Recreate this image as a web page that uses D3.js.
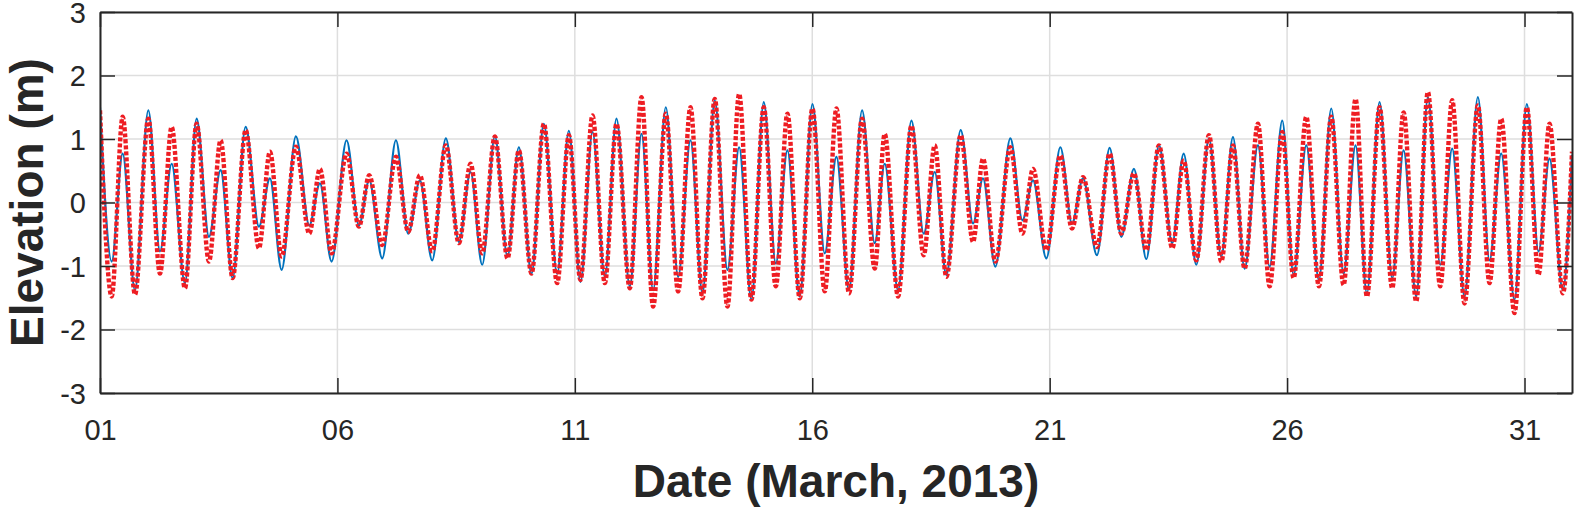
<!DOCTYPE html>
<html>
<head>
<meta charset="utf-8">
<script src="https://cdn.jsdelivr.net/npm/d3@7"></script>
<style>
  html, body { margin: 0; padding: 0; background: #fff; }
  svg { display: block; }
  text { font-family: "Liberation Sans", Arial, Helvetica, sans-serif; }
</style>
</head>
<body>
<svg id="chart" width="1576" height="512"></svg>
<script>
// Times of successive high/low waters (day of March 2013, fractional)
const times = [
  1.000, 1.246, 1.477, 1.737, 2.018, 2.263, 2.509, 2.789, 3.035, 3.295, 3.540, 3.793, 4.067, 4.347, 4.579, 4.825,
  5.126, 5.407, 5.632, 5.877, 6.193, 6.453, 6.670, 6.944, 7.232, 7.491, 7.737, 7.996, 8.284, 8.558, 8.804,
  9.049, 9.316, 9.582, 9.821, 10.088, 10.347, 10.628, 10.874, 11.119, 11.372, 11.632, 11.877, 12.158, 12.404, 12.649, 12.916,
  13.176, 13.435, 13.688, 13.947, 14.214, 14.460, 14.719, 14.979, 15.232, 15.477, 15.737, 16.004, 16.263, 16.509, 16.775,
  17.049, 17.316, 17.526, 17.807, 18.088, 18.347, 18.579, 18.825, 19.126, 19.386, 19.596, 19.856, 20.172, 20.425, 20.649, 20.930,
  21.225, 21.470, 21.702, 21.996, 22.263, 22.509, 22.775, 23.035, 23.302, 23.582, 23.821, 24.088, 24.354, 24.614, 24.860,
  25.105, 25.386, 25.632, 25.898, 26.137, 26.404, 26.670, 26.930, 27.189, 27.442, 27.681, 27.947, 28.214, 28.453, 28.719,
  28.965, 29.225, 29.477, 29.737, 30.018, 30.263, 30.509, 30.789, 31.049, 31.295, 31.526, 31.807, 32.000
];
// Observed elevation (m), blue solid
const observed = [
  1.50, -0.93, 0.77, -1.38, 1.45, -0.77, 0.61, -1.27, 1.32, -0.54, 0.51, -1.19, 1.19, -0.38, 0.38, -1.06,
  1.04, -0.36, 0.30, -0.93, 0.98, -0.36, 0.35, -0.88, 0.98, -0.49, 0.35, -0.91, 1.01, -0.62, 0.48,
  -0.98, 1.04, -0.85, 0.87, -1.12, 1.24, -1.12, 1.13, -1.25, 1.11, -1.17, 1.32, -1.32, 1.08, -1.38, 1.50,
  -1.17, 0.98, -1.43, 1.61, -1.06, 0.87, -1.53, 1.58, -0.96, 0.82, -1.48, 1.55, -0.80, 0.72, -1.38,
  1.45, -0.64, 0.61, -1.38, 1.29, -0.49, 0.48, -1.14, 1.14, -0.33, 0.38, -1.01, 1.01, -0.28, 0.35, -0.88,
  0.87, -0.33, 0.38, -0.83, 0.86, -0.54, 0.53, -0.89, 0.90, -0.64, 0.77, -0.98, 1.01, -0.85, 1.03,
  -1.04, 0.90, -1.01, 1.29, -1.14, 0.90, -1.22, 1.48, -1.12, 0.90, -1.43, 1.58, -1.19, 0.82, -1.48,
  1.66, -0.98, 0.85, -1.48, 1.66, -0.91, 0.77, -1.53, 1.55, -0.77, 0.69, -1.38, 0.75
];
// Modelled elevation (m), red dotted
const modeled = [
  1.45, -1.48, 1.35, -1.45, 1.32, -1.12, 1.19, -1.35, 1.24, -0.93, 0.98, -1.19, 1.14, -0.72, 0.80, -0.85,
  0.88, -0.49, 0.53, -0.80, 0.77, -0.38, 0.43, -0.67, 0.72, -0.46, 0.43, -0.77, 0.90, -0.64, 0.61,
  -0.80, 1.04, -0.88, 0.82, -1.12, 1.24, -1.27, 1.06, -1.22, 1.37, -1.27, 1.24, -1.35, 1.66, -1.64, 1.40,
  -1.40, 1.50, -1.51, 1.63, -1.64, 1.71, -1.53, 1.50, -1.32, 1.40, -1.51, 1.48, -1.40, 1.48, -1.43,
  1.32, -1.04, 1.08, -1.48, 1.21, -0.83, 0.90, -1.17, 1.06, -0.62, 0.69, -0.93, 0.87, -0.49, 0.53, -0.75,
  0.74, -0.41, 0.40, -0.70, 0.77, -0.49, 0.46, -0.75, 0.90, -0.72, 0.66, -0.91, 1.06, -0.93, 0.90,
  -1.04, 1.24, -1.32, 1.11, -1.19, 1.35, -1.32, 1.35, -1.30, 1.63, -1.48, 1.50, -1.35, 1.42, -1.56,
  1.74, -1.32, 1.61, -1.59, 1.53, -1.27, 1.32, -1.74, 1.50, -1.14, 1.24, -1.43, 0.80
];
const xTickValues = [1, 6, 11, 16, 21, 26, 31];
const xTickLabels = ["01", "06", "11", "16", "21", "26", "31"];
const yTickValues = [-3, -2, -1, 0, 1, 2, 3];
const yTickLabels = ["-3", "-2", "-1", "0", "1", "2", "3"];
const xDomain = [1, 32];
const yDomain = [-3, 3];
const xTitle = "Date (March, 2013)";
const yTitle = "Elevation (m)";

const svg = d3.select("#chart");
const L = 100, R = 1572, T = 12, B = 393;
const x = d3.scaleLinear().domain(xDomain).range([L, R]);
const y = d3.scaleLinear().domain(yDomain).range([B, T]);
const axisColor = "#262626";

svg.append("defs").append("clipPath").attr("id", "clip")
  .append("rect").attr("x", L).attr("y", T).attr("width", R - L).attr("height", B - T);

// grid
const grid = svg.append("g");
grid.selectAll(".gx").data(xTickValues).enter().append("line")
  .attr("x1", d => x(d)).attr("x2", d => x(d)).attr("y1", T).attr("y2", B)
  .attr("stroke", "#dedede").attr("stroke-width", 1.5);
grid.selectAll(".gy").data(yTickValues).enter().append("line")
  .attr("y1", d => y(d)).attr("y2", d => y(d)).attr("x1", L).attr("x2", R)
  .attr("stroke", "#dedede").attr("stroke-width", 1.5);

// lines
const obsData = times.map((t, i) => [t, observed[i]]);
const modData = times.map((t, i) => [t, modeled[i]]);
const line = d3.line().x(d => x(d[0])).y(d => y(d[1])).curve(d3.curveMonotoneX);
const plot = svg.append("g").attr("clip-path", "url(#clip)");
plot.append("path").datum(obsData).attr("d", line)
  .attr("fill", "none").attr("stroke", "#0072BD").attr("stroke-width", 2.2);
plot.append("path").datum(modData).attr("d", line)
  .attr("fill", "none").attr("stroke", "#EE1D23").attr("stroke-width", 4.4)
  .attr("stroke-dasharray", "4,2");

// axes (MATLAB style box with inward ticks)
const tl = 15;
const axB = svg.append("g").attr("transform", `translate(0,${B})`)
  .call(d3.axisBottom(x).tickValues(xTickValues).tickFormat((d, i) => xTickLabels[i]).tickSizeInner(-tl).tickSizeOuter(0).tickPadding(26));
const axT = svg.append("g").attr("transform", `translate(0,${T})`)
  .call(d3.axisTop(x).tickValues(xTickValues).tickFormat("").tickSizeInner(-tl).tickSizeOuter(0));
const axL = svg.append("g").attr("transform", `translate(${L},0)`)
  .call(d3.axisLeft(y).tickValues(yTickValues).tickFormat((d, i) => yTickLabels[i]).tickSizeInner(-tl).tickSizeOuter(0).tickPadding(14));
const axR = svg.append("g").attr("transform", `translate(${R},0)`)
  .call(d3.axisRight(y).tickValues(yTickValues).tickFormat("").tickSizeInner(-tl).tickSizeOuter(0));
[axB, axT, axL, axR].forEach(a => {
  a.attr("font-size", null).attr("font-family", null);
  a.select(".domain").attr("stroke", axisColor).attr("stroke-width", 2);
  a.selectAll(".tick line").attr("stroke", axisColor).attr("stroke-width", 1.5);
  a.selectAll("text").attr("fill", axisColor)
    .style("font-size", "29px")
    .style("font-family", "'Liberation Sans', Arial, Helvetica, sans-serif");
});
axL.selectAll("text").attr("dy", "0.36em");

// titles
svg.append("text").attr("x", (L + R) / 2).attr("y", 497).attr("text-anchor", "middle")
  .style("font-size", "46px").attr("font-weight", "bold").attr("fill", axisColor).text(xTitle);
svg.append("text").attr("transform", `translate(43,${(T + B) / 2}) rotate(-90)`).attr("text-anchor", "middle")
  .style("font-size", "46px").attr("font-weight", "bold").attr("fill", axisColor).text(yTitle);
</script>
</body>
</html>
